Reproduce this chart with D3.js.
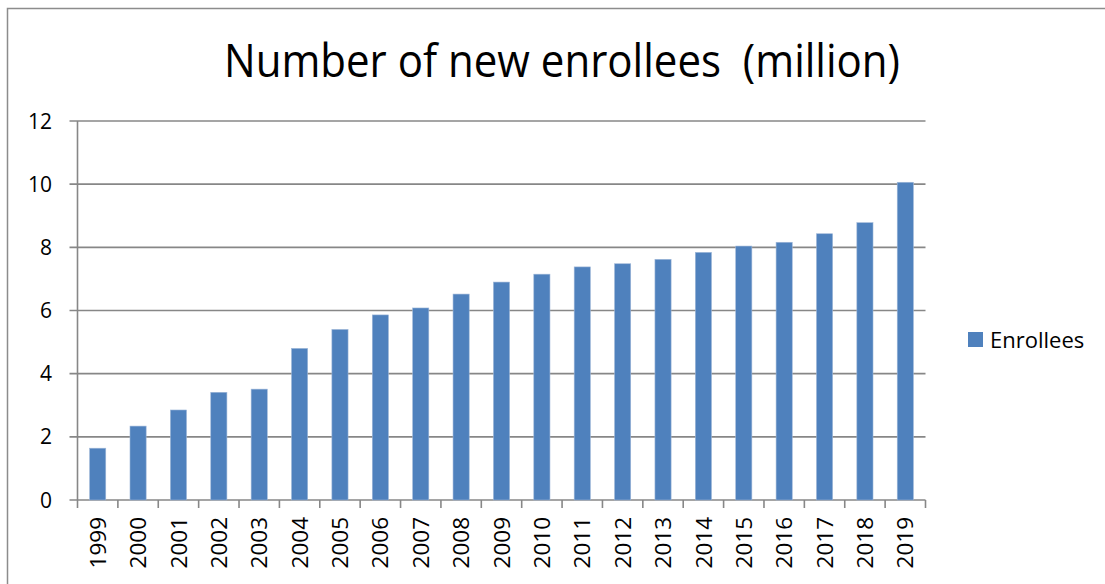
<!DOCTYPE html>
<html>
<head>
<meta charset="utf-8">
<script src="https://cdn.jsdelivr.net/npm/d3@7"></script>
<style>
  body { margin: 0; background: #fff; }
  svg { display: block; }
</style>
</head>
<body>
<svg id="chart" width="1105" height="584"></svg>
<script>
const years = ["1999","2000","2001","2002","2003","2004","2005","2006","2007","2008","2009",
  "2010","2011","2012","2013","2014","2015","2016","2017","2018","2019"];
const enrollees = [1.64, 2.34, 2.85, 3.41, 3.51, 4.80, 5.40, 5.86, 6.08, 6.52, 6.90,
  7.15, 7.38, 7.48, 7.62, 7.84, 8.04, 8.16, 8.43, 8.78, 10.06];
const yTicks = [0, 2, 4, 6, 8, 10, 12];
const seriesName = "Enrollees";

const svg = d3.select("#chart");
const font = "'Open Sans', 'Noto Sans', sans-serif";
const gridColor = "#878787";
const barColor = "#4f81bd";

// outer chart border
svg.append("rect")
  .attr("x", 7.5).attr("y", 8.5)
  .attr("width", 1120).attr("height", 600)
  .attr("fill", "none")
  .attr("stroke", "#8c8c8c")
  .attr("stroke-width", 1.5);

const plot = { left: 77.5, right: 925.5, top: 121, bottom: 500 };

const x = d3.scaleBand()
  .domain(years)
  .range([plot.left, plot.right])
  .paddingInner(0.6)
  .paddingOuter(0.3);

const y = d3.scaleLinear()
  .domain([0, 12])
  .range([plot.bottom, plot.top]);

// gridlines
svg.append("g")
  .selectAll("line")
  .data(yTicks)
  .join("line")
  .attr("x1", plot.left - 8)
  .attr("x2", plot.right)
  .attr("y1", d => y(d))
  .attr("y2", d => y(d))
  .attr("stroke", gridColor)
  .attr("stroke-width", 1.6);

// bars
svg.append("g")
  .selectAll("rect")
  .data(years)
  .join("rect")
  .attr("x", d => x(d))
  .attr("width", x.bandwidth())
  .attr("y", (d, i) => y(enrollees[i]))
  .attr("height", (d, i) => y(0) - y(enrollees[i]))
  .attr("fill", barColor)
  .attr("stroke", "#9db6d8")
  .attr("stroke-width", 0.6);

// y axis line
svg.append("line")
  .attr("x1", plot.left).attr("x2", plot.left)
  .attr("y1", plot.top).attr("y2", plot.bottom)
  .attr("stroke", gridColor)
  .attr("stroke-width", 1.6);

// y tick labels
svg.append("g")
  .selectAll("text")
  .data(yTicks)
  .join("text")
  .attr("x", 52)
  .attr("y", d => y(d))
  .attr("dy", "0.36em")
  .attr("text-anchor", "end")
  .attr("font-family", font)
  .attr("font-size", 21)
  .attr("fill", "#000")
  .text(d => d);

// x axis ticks at category boundaries
const bounds = d3.range(years.length + 1).map(i => plot.left + i * (plot.right - plot.left) / years.length);
svg.append("g")
  .selectAll("line")
  .data(bounds)
  .join("line")
  .attr("x1", d => d).attr("x2", d => d)
  .attr("y1", plot.bottom).attr("y2", plot.bottom + 8)
  .attr("stroke", gridColor)
  .attr("stroke-width", 1.6);

// x tick labels, rotated
svg.append("g")
  .selectAll("text")
  .data(years)
  .join("text")
  .attr("transform", d => `translate(${x(d) + x.bandwidth() / 2}, 517) rotate(-90)`)
  .attr("text-anchor", "end")
  .attr("dy", "0.36em")
  .attr("font-family", font)
  .attr("font-size", 22.5)
  .attr("fill", "#000")
  .text(d => d);

// title
svg.append("text")
  .attr("x", 562)
  .attr("y", 77)
  .attr("text-anchor", "middle")
  .attr("font-family", font)
  .attr("font-size", 45)
  .attr("textLength", 676)
  .attr("lengthAdjust", "spacingAndGlyphs")
  .style("white-space", "pre")
  .attr("fill", "#000")
  .text("Number of new enrollees  (million)");

// legend
const legend = svg.append("g").attr("transform", "translate(968, 332)");
legend.append("rect")
  .attr("width", 15).attr("height", 15)
  .attr("fill", barColor);
legend.append("text")
  .attr("x", 22)
  .attr("y", 8)
  .attr("dy", "0.36em")
  .attr("font-family", font)
  .attr("font-size", 22)
  .attr("fill", "#000")
  .text(seriesName);
</script>
</body>
</html>
